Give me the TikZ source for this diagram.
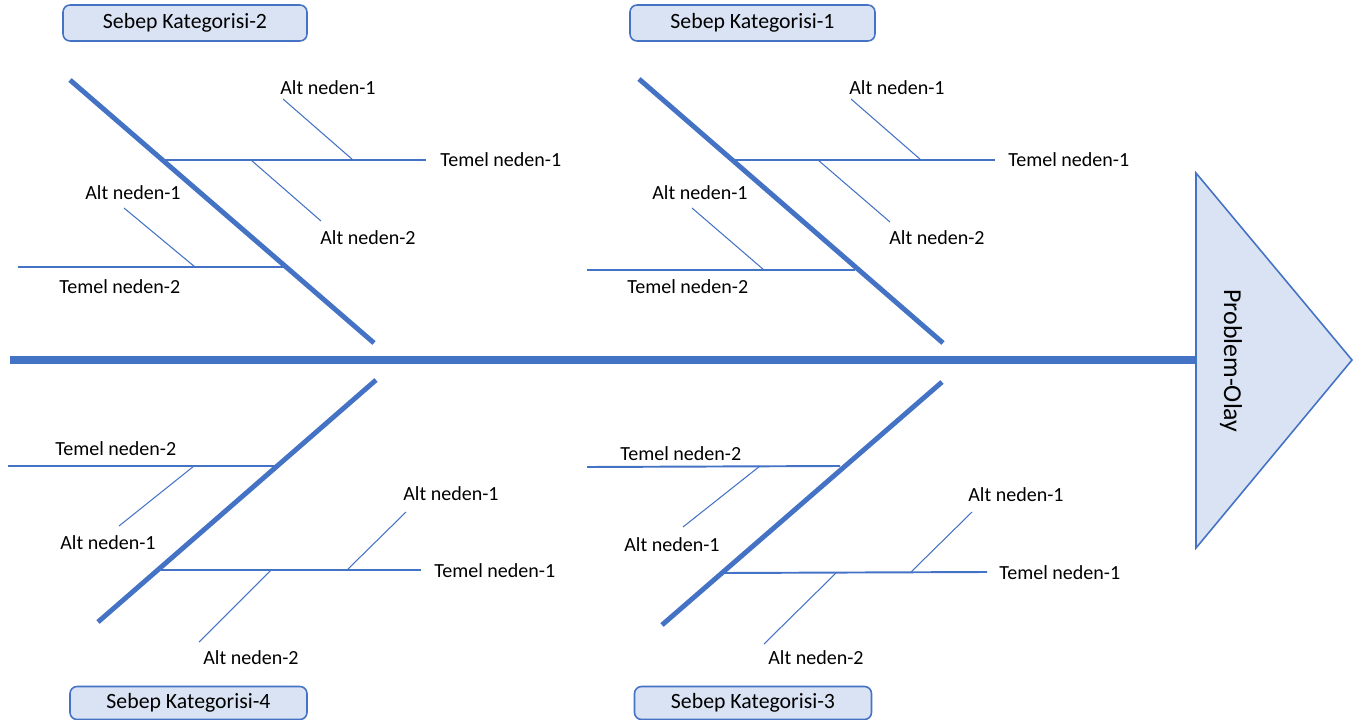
\documentclass[tikz,border=0pt]{standalone}
\usepackage{fontspec}
\setmainfont{Carlito}
\usetikzlibrary{shapes.geometric}
\definecolor{fishblue}{HTML}{4472C4}
\definecolor{fishfill}{HTML}{DAE3F3}
\tikzset{
spineline/.style={draw=fishblue, line width=4.5pt},
catbone/.style={draw=fishblue, line width=2.8pt},
temelline/.style={draw=fishblue, line width=1.1pt},
altline/.style={draw=fishblue, line width=0.6pt},
headshape/.style={draw=fishblue, fill=fishfill, line width=0.9pt, line join=miter},
catbox/.style={rectangle, rounded corners=4pt, draw=fishblue, fill=fishfill, line width=0.9pt, inner sep=0pt, minimum height=0.72cm, font=\fontsize{12.4}{14}\selectfont},
causetext/.style={anchor=west, inner sep=0pt, font=\fontsize{11.4}{13}\selectfont},
}

\begin{document}
\begin{tikzpicture}[x=0.02cm, y=-0.02cm]
    \useasboundingbox (0,0) rectangle (1360,720);
    % head and spine
    \coordinate (headtop) at (1196,173);
    \coordinate (headbot) at (1196,548);
    \coordinate (headtip) at (1352,360);
    \coordinate (tail) at (10,360);
    \coordinate (neck) at (1196,360);
    \draw[spineline] (tail) -- (neck);
    \draw[headshape] (headtop) -- (headtip) -- (headbot) -- cycle;
    \node[rotate=-90, font=\fontsize{14.7}{17}\selectfont] (problem) at (1231,361) {Problem-Olay};
    % category boxes
    \node[catbox, minimum width=4.88cm] (kat2) at (185,23) {Sebep Kategorisi-2};
    \node[catbox, minimum width=4.9cm] (kat1) at (752.5,23) {Sebep Kategorisi-1};
    \node[catbox, minimum width=4.74cm, minimum height=0.66cm] (kat4) at (188.5,703) {Sebep Kategorisi-4};
    \node[catbox, minimum width=4.74cm, minimum height=0.66cm] (kat3) at (753,703) {Sebep Kategorisi-3};
    % category 2 (upper left)
    \coordinate (ktwotop) at (70,80);
    \coordinate (ktwobot) at (374,343);
    \coordinate (ktwoTa) at (163,160);
    \coordinate (ktwoTb) at (426,160);
    \coordinate (ktwoAa) at (283,99);
    \coordinate (ktwoAb) at (353,160);
    \coordinate (ktwoBa) at (251,160);
    \coordinate (ktwoBb) at (321,221);
    \coordinate (ktwoUa) at (18,267);
    \coordinate (ktwoUb) at (285,267);
    \coordinate (ktwoCa) at (124,208);
    \coordinate (ktwoCb) at (195,267);
    \draw[catbone] (ktwotop) -- (ktwobot);
    \draw[temelline] (ktwoTa) -- (ktwoTb);
    \draw[temelline] (ktwoUa) -- (ktwoUb);
    \draw[altline] (ktwoAa) -- (ktwoAb);
    \draw[altline] (ktwoBa) -- (ktwoBb);
    \draw[altline] (ktwoCa) -- (ktwoCb);
    \node[causetext] (ktwoalta) at (280,88) {Alt neden-1};
    \node[causetext] (ktwotemela) at (440,160) {Temel neden-1};
    \node[causetext] (ktwoaltb) at (320,238) {Alt neden-2};
    \node[causetext] (ktwoaltc) at (85,193) {Alt neden-1};
    \node[causetext] (ktwotemelb) at (59,287) {Temel neden-2};
    % category 1 (upper right)
    \coordinate (konetop) at (639,79);
    \coordinate (konebot) at (943,343);
    \coordinate (koneTa) at (735,160);
    \coordinate (koneTb) at (995,160);
    \coordinate (koneAa) at (851,99);
    \coordinate (koneAb) at (921,160);
    \coordinate (koneBa) at (818,160);
    \coordinate (koneBb) at (890,222);
    \coordinate (koneUa) at (587,270);
    \coordinate (koneUb) at (855,270);
    \coordinate (koneCa) at (692,208);
    \coordinate (koneCb) at (764,270);
    \draw[catbone] (konetop) -- (konebot);
    \draw[temelline] (koneTa) -- (koneTb);
    \draw[temelline] (koneUa) -- (koneUb);
    \draw[altline] (koneAa) -- (koneAb);
    \draw[altline] (koneBa) -- (koneBb);
    \draw[altline] (koneCa) -- (koneCb);
    \node[causetext] (konealta) at (849,88) {Alt neden-1};
    \node[causetext] (konetemela) at (1008,160) {Temel neden-1};
    \node[causetext] (konealtb) at (889,238) {Alt neden-2};
    \node[causetext] (konealtc) at (652,193) {Alt neden-1};
    \node[causetext] (konetemelb) at (627,287) {Temel neden-2};
    % category 4 (lower left)
    \coordinate (kfourtop) at (376,380);
    \coordinate (kfourbot) at (98,622);
    \coordinate (kfourUa) at (8,466);
    \coordinate (kfourUb) at (276,466);
    \coordinate (kfourCa) at (194,466);
    \coordinate (kfourCb) at (119,526);
    \coordinate (kfourTa) at (161,570);
    \coordinate (kfourTb) at (421,570);
    \coordinate (kfourAa) at (406,512);
    \coordinate (kfourAb) at (347,570);
    \coordinate (kfourBa) at (271,570);
    \coordinate (kfourBb) at (199,642);
    \draw[catbone] (kfourtop) -- (kfourbot);
    \draw[temelline] (kfourUa) -- (kfourUb);
    \draw[temelline] (kfourTa) -- (kfourTb);
    \draw[altline] (kfourCa) -- (kfourCb);
    \draw[altline] (kfourAa) -- (kfourAb);
    \draw[altline] (kfourBa) -- (kfourBb);
    \node[causetext] (kfourtemelb) at (55,449) {Temel neden-2};
    \node[causetext] (kfouraltc) at (60,543) {Alt neden-1};
    \node[causetext] (kfouralta) at (403,494) {Alt neden-1};
    \node[causetext] (kfourtemela) at (434,571) {Temel neden-1};
    \node[causetext] (kfouraltb) at (203,658) {Alt neden-2};
    % category 3 (lower right)
    \coordinate (kthreetop) at (942,382);
    \coordinate (kthreebot) at (662,625);
    \coordinate (kthreeUa) at (587,467);
    \coordinate (kthreeUb) at (840,466);
    \coordinate (kthreeCa) at (760,466);
    \coordinate (kthreeCb) at (683,527);
    \coordinate (kthreeTa) at (723,573);
    \coordinate (kthreeTb) at (987,572);
    \coordinate (kthreeAa) at (972,512);
    \coordinate (kthreeAb) at (911,572);
    \coordinate (kthreeBa) at (836,573);
    \coordinate (kthreeBb) at (764,644);
    \draw[catbone] (kthreetop) -- (kthreebot);
    \draw[temelline] (kthreeUa) -- (kthreeUb);
    \draw[temelline] (kthreeTa) -- (kthreeTb);
    \draw[altline] (kthreeCa) -- (kthreeCb);
    \draw[altline] (kthreeAa) -- (kthreeAb);
    \draw[altline] (kthreeBa) -- (kthreeBb);
    \node[causetext] (kthreetemelb) at (620,454) {Temel neden-2};
    \node[causetext] (kthreealtc) at (624,545) {Alt neden-1};
    \node[causetext] (kthreealta) at (968,495) {Alt neden-1};
    \node[causetext] (kthreetemela) at (999,573) {Temel neden-1};
    \node[causetext] (kthreealtb) at (768,658) {Alt neden-2};
\end{tikzpicture}
\end{document}
